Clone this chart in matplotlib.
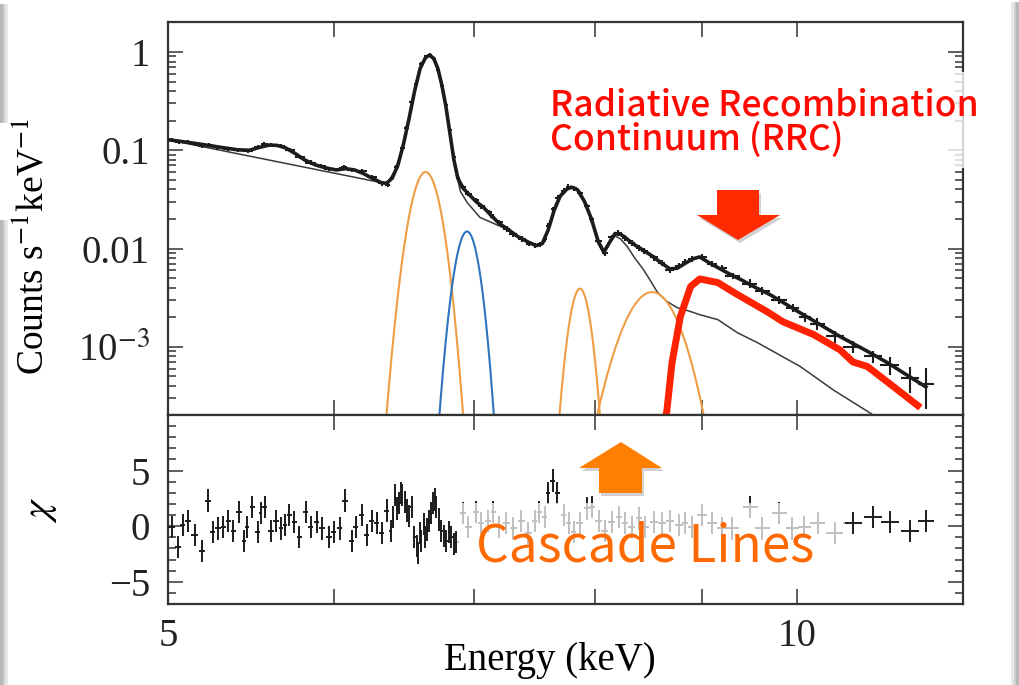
import numpy as np
import matplotlib
matplotlib.use("Agg")
import matplotlib.pyplot as plt
from matplotlib.patches import Polygon, Rectangle
from matplotlib.ticker import (FixedLocator, FixedFormatter, LogLocator,
                               NullFormatter, NullLocator, MultipleLocator)

# ---------------------------------------------------------------- data
# Observed spectrum (keV, counts s^-1 keV^-1) and fractional 1-sigma errors
data_energy = [
    5.02, 5.06, 5.11, 5.15, 5.19, 5.23, 5.28, 5.34, 5.40, 5.46,
    5.52, 5.56, 5.60, 5.66, 5.72, 5.78, 5.85, 5.92, 5.97, 6.04,
    6.07, 6.12, 6.19, 6.26, 6.33, 6.37, 6.40, 6.43, 6.47, 6.50,
    6.54, 6.57, 6.61, 6.64, 6.67, 6.70, 6.73, 6.76, 6.79, 6.82,
    6.85, 6.88, 6.92, 6.96, 7.02, 7.06, 7.12, 7.15, 7.20, 7.26,
    7.31, 7.38, 7.44, 7.49, 7.53, 7.57, 7.60, 7.64, 7.68, 7.73,
    7.77, 7.82, 7.87, 7.93, 7.97, 8.03, 8.09, 8.15, 8.21, 8.27,
    8.33, 8.40, 8.45, 8.54, 8.61, 8.69, 8.78, 8.84, 8.90, 9.00,
    9.10, 9.20, 9.31, 9.49, 9.62, 9.80, 9.95, 10.08, 10.22, 10.42,
    10.63, 10.87, 11.07, 11.32, 11.52,
]
data_counts = [
    0.127, 0.121, 0.121, 0.116, 0.110, 0.114, 0.107, 0.103, 0.101, 0.099,
    0.108, 0.116, 0.113, 0.111, 0.101, 0.086, 0.075, 0.069, 0.065, 0.064,
    0.068, 0.063, 0.062, 0.053, 0.046, 0.044, 0.052, 0.068, 0.105, 0.170,
    0.310, 0.470, 0.760, 0.900, 0.930, 0.850, 0.660, 0.450, 0.290, 0.160,
    0.085, 0.052, 0.042, 0.036, 0.031, 0.027, 0.0235, 0.021, 0.0185, 0.0158,
    0.0140, 0.0125, 0.0112, 0.0108, 0.0110, 0.0125, 0.0170, 0.0250, 0.0330, 0.0385,
    0.0425, 0.0410, 0.0365, 0.0270, 0.0200, 0.0120, 0.0090, 0.0130, 0.0145, 0.0128,
    0.0114, 0.0102, 0.0095, 0.0081, 0.0072, 0.0061, 0.0066, 0.0073, 0.0079, 0.0082,
    0.0069, 0.0063, 0.0053, 0.0044, 0.0037, 0.0030, 0.0025, 0.0020, 0.00172, 0.00128,
    0.00100, 0.00080, 0.00065, 0.00048, 0.00042,
]
data_rel_err = [
    0.05, 0.05, 0.05, 0.05, 0.05, 0.05, 0.05, 0.05, 0.05, 0.05,
    0.05, 0.05, 0.05, 0.05, 0.05, 0.05, 0.05, 0.05, 0.05, 0.05,
    0.05, 0.05, 0.05, 0.05, 0.05, 0.05, 0.05, 0.05, 0.05, 0.05,
    0.04, 0.04, 0.04, 0.04, 0.04, 0.04, 0.04, 0.04, 0.04, 0.04,
    0.05, 0.05, 0.06, 0.06, 0.06, 0.06, 0.06, 0.06, 0.06, 0.06,
    0.06, 0.06, 0.06, 0.06, 0.06, 0.06, 0.06, 0.06, 0.06, 0.06,
    0.06, 0.06, 0.06, 0.06, 0.06, 0.06, 0.06, 0.06, 0.07, 0.07,
    0.07, 0.07, 0.07, 0.07, 0.07, 0.07, 0.07, 0.07, 0.07, 0.07,
    0.07, 0.07, 0.07, 0.10, 0.10, 0.10, 0.10, 0.10, 0.14, 0.14,
    0.14, 0.14, 0.20, 0.30, 0.45,
]

# Best-fit total model
model_energy = [
    5.00, 5.10, 5.20, 5.30, 5.40, 5.47, 5.53, 5.59, 5.64, 5.69,
    5.75, 5.81, 5.88, 5.95, 6.02, 6.08, 6.14, 6.20, 6.26, 6.32,
    6.36, 6.40, 6.44, 6.48, 6.52, 6.56, 6.60, 6.64, 6.67, 6.70,
    6.73, 6.76, 6.79, 6.82, 6.85, 6.88, 6.92, 6.97, 7.02, 7.08,
    7.14, 7.20, 7.27, 7.35, 7.43, 7.50, 7.55, 7.60, 7.65, 7.70,
    7.76, 7.80, 7.85, 7.91, 7.97, 8.03, 8.08, 8.13, 8.18, 8.23,
    8.30, 8.37, 8.44, 8.52, 8.61, 8.69, 8.76, 8.84, 8.92, 8.98,
    9.06, 9.16, 9.28, 9.40, 9.55, 9.70, 9.85, 10.00, 10.22, 10.48,
    10.80, 11.04, 11.29, 11.52,
]
model_counts = [
    0.128, 0.121, 0.114, 0.107, 0.101, 0.100, 0.107, 0.113, 0.112, 0.106,
    0.093, 0.080, 0.071, 0.066, 0.063, 0.065, 0.063, 0.058, 0.052, 0.047,
    0.046, 0.052, 0.070, 0.115, 0.210, 0.400, 0.680, 0.880, 0.930, 0.860,
    0.680, 0.460, 0.280, 0.150, 0.080, 0.052, 0.041, 0.035, 0.030, 0.026,
    0.0215, 0.0180, 0.0157, 0.0132, 0.0117, 0.0107, 0.0112, 0.0155, 0.0245, 0.0340,
    0.0405, 0.0420, 0.0395, 0.0300, 0.0200, 0.0118, 0.0092, 0.0115, 0.0142, 0.0140,
    0.0122, 0.0107, 0.0096, 0.0084, 0.0071, 0.0062, 0.0063, 0.0071, 0.0079, 0.0082,
    0.0073, 0.0064, 0.0055, 0.0048, 0.0040, 0.0034, 0.0028, 0.0023, 0.00175, 0.00127,
    0.00090, 0.00069, 0.00051, 0.00039,
]

# Model without the recombination edge and cascade/extra lines
base_energy = [
    5.00, 6.35, 6.38, 6.42, 6.46, 6.50, 6.54, 6.58, 6.62, 6.66,
    6.70, 6.74, 6.78, 6.82, 6.86, 6.90, 6.95, 7.05, 7.14, 7.20,
    7.27, 7.35, 7.43, 7.50, 7.56, 7.61, 7.66, 7.72, 7.79, 7.85,
    7.91, 7.97, 8.03, 8.08, 8.13, 8.18, 8.23, 8.29, 8.36, 8.44,
    8.50, 8.57, 8.66, 8.76, 8.88, 8.98, 9.16, 9.36, 9.57, 10.03,
    10.41, 10.84, 10.95,
]
base_counts = [
    0.128, 0.046, 0.050, 0.062, 0.092, 0.160, 0.300, 0.540, 0.800, 0.930,
    0.830, 0.600, 0.320, 0.140, 0.064, 0.038, 0.0295, 0.0207, 0.0184, 0.0170,
    0.0155, 0.0130, 0.0118, 0.0108, 0.0113, 0.0170, 0.0280, 0.0380, 0.0430, 0.0400,
    0.0300, 0.0200, 0.0112, 0.0088, 0.0112, 0.0135, 0.0125, 0.0105, 0.0080, 0.0061,
    0.0048, 0.0036, 0.0029, 0.0025, 0.0023, 0.00212, 0.00189, 0.00139, 0.00110, 0.00063,
    0.00036, 0.00021, 0.00018,
]

# Radiative recombination continuum component
rrc_energy = [8.65, 8.66, 8.71, 8.79, 8.89, 8.98, 9.16, 9.36, 9.67, 9.84,
              10.18, 10.48, 10.63, 10.80, 11.12, 11.45]
rrc_counts = [0.00020, 0.00022, 0.00069, 0.00202, 0.0041, 0.0049, 0.0045, 0.0034,
              0.00228, 0.0018, 0.00133, 0.00093, 0.00070, 0.00063, 0.00039, 0.00024]

# Gaussian line components: centre (keV), peak, sigma (keV)
line_center = [6.64, 6.95, 7.87, 8.52]
line_peak = [0.060, 0.0149, 0.0039, 0.0036]
line_sigma = [0.083, 0.071, 0.072, 0.208]
line_color = ["#EE9E45", "#2F74BC", "#EE9E45", "#EE9E45"]

# Fit residuals (chi)
res_energy = [
    5.020, 5.055, 5.083, 5.110, 5.150, 5.190, 5.225, 5.254, 5.283, 5.313,
    5.343, 5.373, 5.408, 5.439, 5.457, 5.487, 5.518, 5.537, 5.561, 5.599,
    5.631, 5.663, 5.689, 5.715, 5.747, 5.779, 5.818, 5.850, 5.889, 5.922,
    5.968, 6.001, 6.040, 6.074, 6.120, 6.148, 6.189, 6.223, 6.257, 6.291,
    6.326, 6.361, 6.389, 6.405, 6.417, 6.431, 6.445, 6.459, 6.473, 6.488,
    6.502, 6.520, 6.538, 6.559, 6.574, 6.588, 6.600, 6.610, 6.625, 6.639,
    6.653, 6.668, 6.683, 6.697, 6.708, 6.719, 6.737, 6.756, 6.775, 6.793,
    6.812, 6.831, 6.850, 6.868, 6.921, 6.960, 7.021, 7.060, 7.115, 7.154,
    7.202, 7.258, 7.314, 7.379, 7.436, 7.486, 7.527, 7.569, 7.602, 7.636,
    7.678, 7.729, 7.772, 7.815, 7.867, 7.928, 7.972, 8.034, 8.088, 8.151,
    8.214, 8.269, 8.333, 8.398, 8.453, 8.538, 8.614, 8.690, 8.777, 8.835,
    8.903, 9.002, 9.103, 9.204, 9.306, 9.493, 9.620, 9.803, 9.945, 10.078,
    10.224, 10.418, 10.628, 10.866, 11.072, 11.320, 11.521,
]
res_chi = [
    -0.1, -1.9, 0.1, 0.5, -0.8, -2.2, 2.3, -0.5, -0.2, -0.1,
    0.5, -0.4, 1.3, -1.3, -0.1, 1.7, -0.5, 1.2, 1.7, -0.4,
    0.5, -0.2, 0.1, 1.0, 0.4, -1.0, 1.3, -0.1, 0.4, -0.2,
    -1.0, -0.5, -0.2, 2.3, -1.3, -0.1, 1.0, -0.8, 0.5, 0.3,
    -0.6, 1.4, -0.4, 0.8, 2.8, 1.6, 2.1, 3.0, 2.8, 2.2,
    1.4, 0.9, 1.7, -1.0, -1.8, -2.4, -0.6, -1.3, 0.2, -1.0,
    -0.3, 0.5, 1.2, 2.1, 2.4, 1.7, 0.6, -0.4, -0.9, -1.3,
    -0.5, -1.0, -1.6, -1.4, 1.2, -0.1, 1.3, 0.3, 0.5, 1.3,
    -0.1, 0.3, -0.2, 0.5, -0.6, 0.5, 1.3, 0.8, 3.0, 4.1,
    3.0, 1.0, 0.3, -0.5, 0.3, 1.6, 1.7, 0.5, -0.4, 0.4,
    0.8, 0.3, -0.1, 0.7, -0.1, 0.4, 0.3, 0.5, 0.1, 0.3,
    -0.1, 1.0, 0.3, -0.2, -0.2, 1.7, -0.2, 1.2, -0.2, -0.1,
    0.3, -0.6, 0.3, 0.8, 0.4, -0.4, 0.5,
]

x_ticks = [5, 6, 7, 8, 9, 10]
x_ticklabels = ["5", "", "", "", "", "10"]
y_ticks = [1e-3, 1e-2, 1e-1, 1]
y_ticklabels = ["10$^{-3}$", "0.01", "0.1", "1"]
chi_ticks = [-5, 0, 5]
chi_ticklabels = ["\u22125", "0", "5"]

# ---------------------------------------------------------------- figure
plt.rcParams["font.family"] = ["Liberation Serif", "DejaVu Serif"]
plt.rcParams["mathtext.fontset"] = "stix"

W, H = 1019, 685
fig = plt.figure(figsize=(W / 100, H / 100), dpi=100)
fig.patch.set_facecolor("white")


def fx(x):
    return x / W


def fy(y):
    return 1 - y / H


L, R, T, M, B = 168, 963, 22, 415, 604
ax1 = fig.add_axes([fx(L), fy(M), fx(R) - fx(L), fy(T) - fy(M)])
ax2 = fig.add_axes([fx(L), fy(B), fx(R) - fx(L), fy(M) - fy(B)])


def half_widths(e, frac):
    e = np.asarray(e, dtype=float)
    d = np.diff(e)
    w = np.concatenate([[d[0]], (d[:-1] + d[1:]) / 2, [d[-1]]])
    return frac * w


ink = "#1c1c1c"

# --- spectrum panel
de = np.asarray(data_energy)
dc = np.asarray(data_counts)
ax1.errorbar(de, dc, xerr=half_widths(de, 0.5), yerr=dc * np.asarray(data_rel_err),
             fmt="none", ecolor=ink, elinewidth=1.5, zorder=3)
ax1.plot(model_energy, model_counts, color=ink, lw=2.6, zorder=4)
ax1.plot(base_energy, base_counts, color="#3a3a3a", lw=1.1, zorder=2)

grid = np.linspace(5.0, 12.0, 3000)
for c, p, s, col in zip(line_center, line_peak, line_sigma, line_color):
    prof = p * np.exp(-0.5 * ((grid - c) / s) ** 2)
    ax1.plot(grid, prof, color=col, lw=1.5, zorder=2)

ax1.plot(rrc_energy, rrc_counts, color="#FF2200", lw=5.0, zorder=6,
         solid_capstyle="butt", solid_joinstyle="round")

ax1.set_xscale("log")
ax1.set_yscale("log")
ax1.set_xlim(5, 12)
ax1.set_ylim(2.02e-4, 2.02)
ax1.xaxis.set_major_locator(FixedLocator(x_ticks))
ax1.xaxis.set_major_formatter(NullFormatter())
ax1.xaxis.set_minor_locator(NullLocator())
ax1.yaxis.set_major_locator(FixedLocator(y_ticks))
ax1.yaxis.set_major_formatter(FixedFormatter(y_ticklabels))
ax1.yaxis.set_minor_locator(LogLocator(base=10, subs=np.arange(2, 10), numticks=30))
ax1.yaxis.set_minor_formatter(NullFormatter())
ax1.set_ylabel("Counts s$^{-1}$keV$^{-1}$", fontsize=27)
ax1.yaxis.set_label_coords(-0.147, 0.43)

# --- residual panel
re = np.asarray(res_energy)
ax2.errorbar(re, res_chi, xerr=half_widths(re, 0.5), yerr=1.0, fmt="none",
             ecolor=ink, elinewidth=1.4, zorder=3)
ax2.set_xscale("log")
ax2.set_xlim(5, 12)
ax2.set_ylim(-7, 10)
ax2.xaxis.set_major_locator(FixedLocator(x_ticks))
ax2.xaxis.set_major_formatter(FixedFormatter(x_ticklabels))
ax2.xaxis.set_minor_locator(NullLocator())
ax2.yaxis.set_major_locator(FixedLocator(chi_ticks))
ax2.yaxis.set_major_formatter(FixedFormatter(chi_ticklabels))
ax2.yaxis.set_minor_locator(MultipleLocator(1))
ax2.set_ylabel("$\\chi$", fontsize=29)
ax2.yaxis.set_label_coords(-0.137, 0.5)
ax2.set_xlabel("Energy (keV)", fontsize=28)
ax2.xaxis.set_label_coords(0.48, -0.2)

for ax in (ax1, ax2):
    for sp in ax.spines.values():
        sp.set_color("#333333")
        sp.set_linewidth(1.6)
    ax.tick_params(which="both", direction="in", top=True, right=True,
                   color="#333333", width=1.1, labelcolor="#222222")
    ax.tick_params(which="major", length=10.5, labelsize=28)
    ax.tick_params(which="minor", length=6)
    ax.tick_params(axis="y", pad=13)
    ax.tick_params(axis="x", pad=10)

# translucent panel behind the "Cascade Lines" caption
ax2.add_patch(Rectangle((6.87, -4.4), 10.54 - 6.87, 6.45, transform=ax2.transData,
                        facecolor="white", alpha=0.72, edgecolor="none", zorder=5))

# ---------------------------------------------------------------- annotations
fig.patches.append(Rectangle((fx(530), fy(168)), fx(985) - fx(530), fy(72) - fy(168),
                             transform=fig.transFigure, facecolor="white",
                             alpha=0.8, edgecolor="none", zorder=2))

sans = ["Noto Sans CJK JP", "DejaVu Sans"]
fig.text(fx(550), fy(115), "Radiative Recombination", family=sans, fontsize=25.5,
         weight="medium", color="#FF0A00", ha="left", va="baseline", zorder=4)
fig.text(fx(550), fy(150), "Continuum (RRC)", family=sans, fontsize=25.5,
         weight="medium", color="#FF0A00", ha="left", va="baseline", zorder=4)
fig.text(fx(476), fy(562), "Cascade Lines", family=sans, fontsize=37,
         color="#FF6A00", ha="left", va="baseline", zorder=4)


def arrow(pts, color):
    shadow = [(fx(x + 2), fy(y + 3)) for x, y in pts]
    fig.patches.append(Polygon(shadow, closed=True, transform=fig.transFigure,
                               facecolor="#000000", alpha=0.18, edgecolor="none",
                               zorder=3))
    fig.patches.append(Polygon([(fx(x), fy(y)) for x, y in pts], closed=True,
                               transform=fig.transFigure, facecolor=color,
                               edgecolor="none", zorder=4))


arrow([(717, 190), (759, 190), (759, 215), (780, 215), (738, 240), (697, 215),
       (717, 215)], "#FF2A00")
arrow([(621, 442), (662, 468), (642, 468), (642, 493), (599, 493), (599, 468),
       (579, 468)], "#FF8000")

# page edges
for x0, x1, col in [(0, 3, "#b8b8b8"), (3, 5, "#cdcdcd"), (5, 8, "#e8e8e8")]:
    for y0, y1 in [(4, 123), (220, 685)]:
        fig.patches.append(Rectangle((fx(x0), fy(y1)), fx(x1) - fx(x0), fy(y0) - fy(y1),
                                     transform=fig.transFigure, facecolor=col,
                                     edgecolor="none", zorder=1))
for x0, x1, col in [(1011, 1014, "#e8e8e8"), (1014, 1016, "#cdcdcd"), (1016, 1019, "#b8b8b8")]:
    fig.patches.append(Rectangle((fx(x0), 0), fx(x1) - fx(x0), fy(2),
                                 transform=fig.transFigure, facecolor=col,
                                 edgecolor="none", zorder=1))

fig.savefig("out.png", dpi=100, facecolor="white")
